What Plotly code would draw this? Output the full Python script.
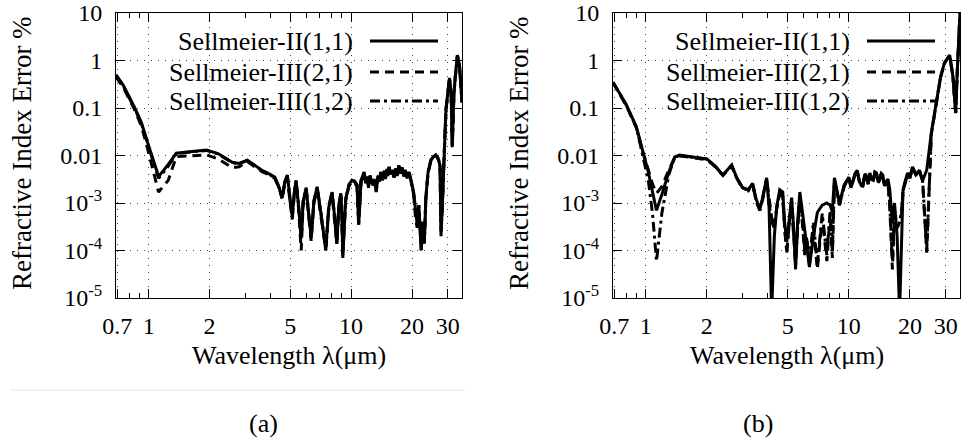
import plotly.graph_objects as go
import math

# ---------------- data ----------------
WL_A = [0.69, 0.75, 0.85, 0.92, 0.98, 1.05, 1.12, 1.25, 1.37, 1.6, 1.93, 2.2, 2.59, 2.8, 3.07, 3.3,
        3.65, 3.9, 4.2, 4.4, 4.57, 4.7, 4.84, 5.0, 5.12, 5.25, 5.35, 5.5, 5.67, 5.8, 6.0, 6.15,
        6.35, 6.55, 6.8, 7.1, 7.5, 7.75, 8.05, 8.3, 8.5, 8.7, 8.9, 9.0, 9.1, 9.4, 9.77, 10.1,
        10.4, 10.7, 10.9, 11.2, 11.6,
        11.8, 12.0, 12.2, 12.4, 12.6, 12.8, 13.0, 13.3, 13.6, 13.8, 14.0, 14.3, 14.6, 14.8, 15.0,
        15.2, 15.4, 15.7, 16.0, 16.3, 16.6, 16.9, 17.2, 17.5, 17.9, 18.2, 18.5, 18.9, 19.3, 19.8,
        20.4, 20.8, 21.2, 21.6, 22.2, 22.6, 23.0, 23.4, 24.0, 24.8, 25.5, 26.2, 27.0, 27.5, 27.8,
        28.2, 28.8, 29.4, 30.6, 31.2, 31.6, 32.2, 32.7, 33.5, 34.3, 35.3]

A_II_11 = [0.50, 0.30, 0.105, 0.05, 0.021, 0.008, 0.0036, 0.0065, 0.0112, 0.012, 0.013, 0.011,
           0.0072, 0.0068, 0.008, 0.0065, 0.0048, 0.0042, 0.0035, 0.0022, 0.0013, 0.0028, 0.0039,
           0.0012, 0.00052, 0.0018, 0.003, 0.0009, 0.00018, 0.0011, 0.0021, 0.0007, 0.00019,
           0.0011, 0.0022, 0.0006, 0.0001, 0.0008, 0.0017, 0.0005, 0.00014, 0.0009, 0.0016,
           0.0006, 0.00007, 0.0012, 0.0025, 0.003, 0.0029, 0.0024, 0.00035, 0.003, 0.0045,
           0.0028, 0.0036, 0.0022, 0.0038, 0.0030, 0.0024, 0.0032, 0.0018, 0.0038, 0.0030, 0.0045,
           0.0032, 0.0048, 0.0034, 0.0052, 0.0040, 0.0058, 0.0041, 0.0050, 0.0036, 0.0054, 0.0040,
           0.0062, 0.0045, 0.0056, 0.0038, 0.0050, 0.0035, 0.0045, 0.0030,
           0.0016, 0.0006, 0.00035, 0.0009, 0.0001, 0.0004, 0.00014, 0.0013, 0.0045, 0.0081,
           0.0095, 0.0103, 0.0085, 0.006, 0.0002, 0.0008, 0.01, 0.09, 0.43, 0.2, 0.015, 0.2,
           0.45, 1.3, 0.8, 0.13]

A_III_21 = [0.45, 0.27, 0.095, 0.042, 0.016, 0.005, 0.0017, 0.003, 0.0095, 0.0098, 0.0103, 0.0085,
            0.0055, 0.0058, 0.0075, 0.006, 0.0045, 0.004, 0.0033, 0.0021, 0.0012, 0.0025, 0.0036,
            0.0010, 0.00045, 0.0016, 0.0027, 0.0008, 0.0001, 0.0010, 0.0019, 0.0006, 0.00016,
            0.0010, 0.002, 0.0005, 0.00012, 0.0007, 0.0016, 0.0004, 0.00015, 0.0008, 0.0015,
            0.0005, 0.00009, 0.0011, 0.0023, 0.0028, 0.0027, 0.0022, 0.0004, 0.0028, 0.0042,
            0.0026, 0.0034, 0.0021, 0.0035, 0.0028, 0.0022, 0.0030, 0.0017, 0.0035, 0.0028, 0.0042,
            0.0030, 0.0045, 0.0032, 0.0049, 0.0037, 0.0055, 0.0039, 0.0047, 0.0034, 0.0051, 0.0037,
            0.0059, 0.0042, 0.0053, 0.0036, 0.0047, 0.0033, 0.0043, 0.0028,
            0.0014, 0.0005, 0.0003, 0.0008, 0.00012, 0.0004, 0.00016, 0.0012, 0.0043, 0.0078,
            0.0092, 0.01, 0.0082, 0.0058, 0.0003, 0.0008, 0.0098, 0.088, 0.42, 0.2, 0.016, 0.19,
            0.44, 1.25, 0.8, 0.13]

A_III_12 = [0.49, 0.29, 0.1, 0.048, 0.02, 0.0075, 0.0033, 0.006, 0.011, 0.0118, 0.0128, 0.0108,
            0.007, 0.0067, 0.0079, 0.0064, 0.0047, 0.0041, 0.0034, 0.0021, 0.0013, 0.0027, 0.0038,
            0.0011, 0.0005, 0.0017, 0.0029, 0.0009, 0.00017, 0.0011, 0.002, 0.0007, 0.00018,
            0.0011, 0.0021, 0.0006, 0.0001, 0.0008, 0.0017, 0.0005, 0.00014, 0.0009, 0.0016,
            0.0006, 0.00008, 0.0012, 0.0024, 0.003, 0.0028, 0.0024, 0.00035, 0.003, 0.0044,
            0.0027, 0.0035, 0.0023, 0.0037, 0.0029, 0.0023, 0.0031, 0.0019, 0.0037, 0.0029, 0.0044,
            0.0031, 0.0047, 0.0033, 0.0051, 0.0039, 0.0057, 0.0040, 0.0049, 0.0035, 0.0053, 0.0039,
            0.0061, 0.0044, 0.0055, 0.0037, 0.0049, 0.0034, 0.0044, 0.0029,
            0.0015, 0.0006, 0.00035, 0.0009, 0.0001, 0.0004, 0.00014, 0.0013, 0.0044, 0.008,
            0.0094, 0.0102, 0.0084, 0.006, 0.00025, 0.0008, 0.0099, 0.09, 0.43, 0.2, 0.015, 0.2,
            0.45, 1.28, 0.8, 0.13]

WL_B = [0.69, 0.8, 0.9, 0.966, 1.03, 1.08, 1.13, 1.2, 1.3, 1.39, 1.47, 1.7, 2.0, 2.2, 2.4, 2.65,
        2.8, 3.0, 3.2, 3.36, 3.5, 3.65, 3.8, 3.94, 4.05, 4.17, 4.3, 4.42, 4.57, 4.73, 4.83, 4.95,
        5.1, 5.23, 5.35, 5.47, 5.6, 5.74, 5.9, 6.07, 6.2, 6.4, 6.7, 7.0, 7.4, 7.8, 8.1, 8.3,
        8.5, 8.75, 9.0, 9.5,
        10.0, 10.25, 10.5, 10.75, 11.0, 11.3, 11.7, 12.0, 12.2, 12.45, 12.7, 12.95, 13.2, 13.45,
        13.7, 13.95, 14.2, 14.45, 14.7, 15.0, 15.3, 15.6, 15.9,
        16.4, 16.8, 17.3, 17.8, 18.2, 18.5, 19.0, 19.5, 20.0, 20.6, 21.4, 22.3, 23.1,
        24.2, 25.5, 27.0, 28.3, 29.6, 31.4, 32.6, 33.6, 34.3, 35.3]

B_II_11 = [0.35, 0.12, 0.04, 0.013, 0.0045, 0.0017, 0.0007, 0.0015, 0.0045, 0.0093, 0.0102, 0.0093,
           0.0085, 0.006, 0.0039, 0.0063, 0.0035, 0.0021, 0.0019, 0.0026, 0.0012, 0.00075, 0.0015,
           0.0034, 0.0008, 0.000005, 0.0002, 0.00085, 0.0019, 0.0017, 0.0004, 0.00015, 0.0005,
           0.0013, 0.0003, 0.00004, 0.0004, 0.0017, 0.0007, 0.00027, 0.00012, 0.000045, 0.0002,
           0.00063, 0.0009, 0.001, 0.0009, 0.00065, 0.0034, 0.0018, 0.001, 0.0024,
           0.0035, 0.0022, 0.003, 0.0042, 0.0049, 0.0028, 0.0022, 0.0041, 0.0038, 0.0026, 0.0043,
           0.0031, 0.003, 0.0045, 0.0043, 0.0028, 0.0032, 0.0042, 0.0039, 0.0024, 0.0028, 0.0032,
           0.002,
           0.00038, 0.001, 0.0002, 0.000005, 0.0004, 0.0019, 0.003, 0.0043, 0.0035, 0.0058, 0.004,
           0.0049, 0.003, 0.0049, 0.03, 0.15, 0.45, 0.89, 1.3, 0.45, 0.078, 0.73, 10]

B_III_21 = [0.34, 0.115, 0.038, 0.012, 0.005, 0.0025, 0.0016, 0.0022, 0.005, 0.009, 0.0098, 0.009,
            0.0082, 0.0058, 0.0038, 0.006, 0.0034, 0.002, 0.0019, 0.0025, 0.0011, 0.0007, 0.0014,
            0.0032, 0.0012, 0.0005, 0.0003, 0.0008, 0.0016, 0.0013, 0.0003, 0.0001, 0.0004,
            0.0011, 0.0002, 0.00006, 0.0003, 0.0012, 0.0004, 0.00008, 0.0002, 0.00005, 0.0003,
            0.00004, 0.0005, 0.00006, 0.0006, 0.00007, 0.0028, 0.0017, 0.0009, 0.0023,
            0.0033, 0.0021, 0.0029, 0.004, 0.0047, 0.0027, 0.0021, 0.0039, 0.0036, 0.0025, 0.0041,
            0.003, 0.0029, 0.0043, 0.0041, 0.0027, 0.003, 0.004, 0.0037, 0.0023, 0.0026, 0.0025,
            0.0009,
            0.00004, 0.0006, 0.0003, 0.0004, 0.0006, 0.0018, 0.0029, 0.0041, 0.0033, 0.0055,
            0.0039, 0.0047, 0.0029, 0.00009, 0.028, 0.14, 0.44, 0.88, 1.28, 0.44, 0.08, 0.72, 10]

B_III_12 = [0.35, 0.118, 0.039, 0.011, 0.003, 0.0006, 0.00006, 0.0006, 0.004, 0.0092, 0.01, 0.0092,
            0.0084, 0.0059, 0.0038, 0.0062, 0.0034, 0.0021, 0.0018, 0.0025, 0.0011, 0.0007, 0.0015,
            0.0033, 0.001, 0.0004, 0.0003, 0.0008, 0.0017, 0.0014, 0.0003, 0.00009, 0.0004,
            0.0012, 0.00025, 0.00005, 0.0003, 0.0013, 0.0005, 0.0001, 0.00018, 0.00006, 0.0004,
            0.00005, 0.0006, 0.00008, 0.0007, 0.00009, 0.003, 0.0017, 0.0009, 0.0023,
            0.0034, 0.0021, 0.0029, 0.0041, 0.0048, 0.0027, 0.0021, 0.004, 0.0037, 0.0025, 0.0042,
            0.003, 0.0029, 0.0044, 0.0042, 0.0027, 0.0031, 0.0041, 0.0038, 0.0023, 0.0027, 0.0026,
            0.001,
            0.00006, 0.0007, 0.0003, 0.0004, 0.0007, 0.0018, 0.0029, 0.0042, 0.0034, 0.0057,
            0.0039, 0.0048, 0.003, 0.0001, 0.029, 0.145, 0.44, 0.88, 1.29, 0.45, 0.079, 0.72, 10]

SERIES_NAMES = ["Sellmeier-II(1,1)", "Sellmeier-III(2,1)", "Sellmeier-III(1,2)"]
X_TICKS = [0.7, 1, 2, 5, 10, 20, 30]
X_TICK_TEXT = ["0.7", "1", "2", "5", "10", "20", "30"]
X_MINOR = [0.8, 0.9, 3, 4, 6, 7, 8, 9]
Y_TICKS = [1e-5, 1e-4, 1e-3, 0.01, 0.1, 1, 10]
Y_TICK_TEXT = ["10<sup>-5</sup>", "10<sup>-4</sup>", "10<sup>-3</sup>", "0.01", "0.1", "1", "10"]
X_TITLE = "Wavelength λ(μm)"
Y_TITLE = "Refractive Index Error %"
PANEL_LABELS = ["(a)", "(b)"]

# ---------------- layout helpers ----------------
W, H = 964, 439
FONT = "Liberation Serif, Times New Roman, Times, DejaVu Serif, serif"
DASHES = ["solid", "9px,6px", "10px,4px,3px,4px"]

def px(x):
    return x / W

def py(y):
    return 1 - y / H

panels = [
    dict(wl=WL_A, ys=[A_II_11, A_III_21, A_III_12], x0=116, x1=462, xa="x", ya="y"),
    dict(wl=WL_B, ys=[B_II_11, B_III_21, B_III_12], x0=613, x1=960, xa="x2", ya="y2"),
]
top, bottom = 13, 298

fig = go.Figure()
for p in panels:
    n = min(len(p["wl"]), *(len(s) for s in p["ys"]))
    # draw dash-dot, dashed, then solid on top
    for k in [2, 1, 0]:
        fig.add_trace(go.Scatter(
            x=p["wl"][:n], y=p["ys"][k][:n], mode="lines", name=SERIES_NAMES[k],
            line=dict(color="black", width=3, dash=DASHES[k]),
            xaxis=p["xa"], yaxis=p["ya"], showlegend=False))

axis_common = dict(
    showline=True, linecolor="black", linewidth=1, mirror="allticks",
    ticks="inside", ticklen=9, tickcolor="black", tickwidth=1,
    showgrid=True, gridcolor="#444", gridwidth=1, griddash="1px,6px",
    zeroline=False, tickfont=dict(family=FONT, size=24, color="black"),
    automargin=False,
)

xr = [math.log10(0.69), math.log10(35.3)]
for i, p in enumerate(panels):
    xkey = "xaxis" if i == 0 else "xaxis2"
    ykey = "yaxis" if i == 0 else "yaxis2"
    fig.update_layout(**{
        xkey: dict(axis_common, type="log", range=xr, domain=[px(p["x0"]), px(p["x1"])],
                   anchor=p["ya"], tickmode="array", tickvals=X_TICKS, ticktext=X_TICK_TEXT,
                   ticklabelstandoff=6,
                   minor=dict(tickmode="array", tickvals=X_MINOR, ticks="inside", ticklen=5,
                              tickcolor="black", showgrid=False)),
        ykey: dict(axis_common, type="log", range=[-5, 1], domain=[py(bottom), py(top)],
                   anchor=p["xa"], tickmode="array", tickvals=Y_TICKS, ticktext=Y_TICK_TEXT,
                   ticklabelstandoff=8),
    })

shapes = []
annotations = []
legend_rows = [41, 72, 101]
for i, p in enumerate(panels):
    cx = (p["x0"] + p["x1"]) / 2
    text_right = p["x0"] + 239
    samp0, samp1 = p["x0"] + 254, p["x0"] + 322
    # opaque key box (hides grid only)
    shapes.append(dict(type="rect", xref="paper", yref="paper", layer="between",
                       x0=px(p["x0"] + 28), x1=px(p["x0"] + 328), y0=py(117), y1=py(top + 1),
                       fillcolor="white", line=dict(width=0)))
    for k, yy in enumerate(legend_rows):
        annotations.append(dict(text=SERIES_NAMES[k], xref="paper", yref="paper",
                                x=px(text_right), y=py(yy), xanchor="right", yanchor="middle",
                                showarrow=False, font=dict(family=FONT, size=26, color="black")))
        shapes.append(dict(type="line", xref="paper", yref="paper", layer="above",
                           x0=px(samp0), x1=px(samp1), y0=py(yy), y1=py(yy),
                           line=dict(color="black", width=3, dash=DASHES[k])))
    annotations.append(dict(text=X_TITLE, xref="paper", yref="paper", x=px(cx), y=py(355),
                            xanchor="center", yanchor="middle", showarrow=False,
                            font=dict(family=FONT, size=26, color="black")))
    annotations.append(dict(text=Y_TITLE, xref="paper", yref="paper", x=px(p["x0"] - 94),
                            y=py(153), xanchor="center", yanchor="middle", textangle=-90,
                            showarrow=False, font=dict(family=FONT, size=27, color="black")))
    annotations.append(dict(text=PANEL_LABELS[i], xref="paper", yref="paper",
                            x=px(263 + i * 495), y=py(423), xanchor="center", yanchor="middle",
                            showarrow=False, font=dict(family=FONT, size=26, color="black")))

shapes.append(dict(type="line", xref="paper", yref="paper", x0=px(10), x1=px(465),
                   y0=py(390), y1=py(390), line=dict(color="#e4e4e4", width=1)))

fig.update_layout(width=W, height=H, margin=dict(l=0, r=0, t=0, b=0),
                  paper_bgcolor="white", plot_bgcolor="white",
                  font=dict(family=FONT, color="black"),
                  shapes=shapes, annotations=annotations, showlegend=False)

fig.write_html("out.html", config={"displayModeBar": False},
               post_script="document.body.style.margin='0';document.body.style.overflow='hidden';")
